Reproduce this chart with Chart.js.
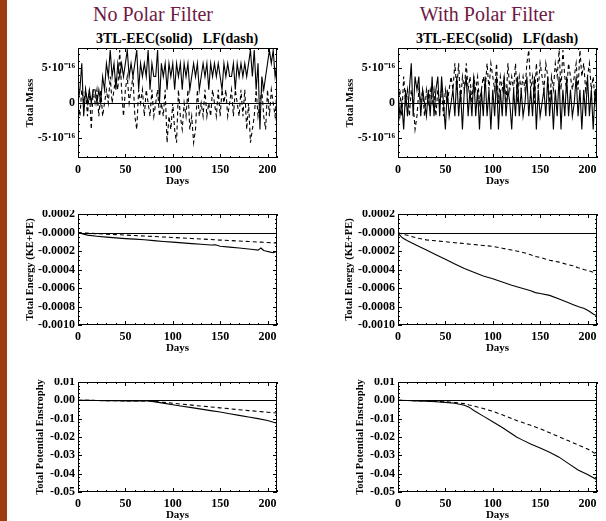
<!DOCTYPE html>
<html>
<head>
<meta charset="utf-8">
<script src="https://cdn.jsdelivr.net/npm/chart.js@4.4.1/dist/chart.umd.min.js"></script>
<style>
html, body { margin: 0; padding: 0; background: #fff; width: 606px; height: 521px; overflow: hidden; }
#bar { position: absolute; left: 0; top: 0; width: 7px; height: 521px; background: #9c3d12; }
.col { position: absolute; top: 3px; line-height: 23px; font: 20px "Liberation Serif", serif; color: #6e1a45; white-space: nowrap; transform: translateX(-50%); }
.sub { position: absolute; top: 31px; line-height: 16px; font: bold 14px "Liberation Serif", serif; color: #000; white-space: pre; transform: translateX(-50%); }
canvas { position: absolute; }
</style>
</head>
<body>
<div id="bar"></div>
<div class="col" style="left:153px">No Polar Filter</div>
<div class="col" style="left:487px">With Polar Filter</div>
<div class="sub" style="left:177px">3TL-EEC(solid)   LF(dash)</div>
<div class="sub" style="left:497px">3TL-EEC(solid)   LF(dash)</div>

<canvas id="massL" width="292" height="144" style="left:8px;top:44px"></canvas>
<canvas id="massR" width="306" height="144" style="left:300px;top:44px"></canvas>
<canvas id="energyL" width="292" height="145" style="left:8px;top:210px"></canvas>
<canvas id="energyR" width="306" height="145" style="left:300px;top:210px"></canvas>
<canvas id="enstL" width="292" height="144" style="left:8px;top:378px"></canvas>
<canvas id="enstR" width="306" height="144" style="left:300px;top:378px"></canvas>

<script>
// tick values and labels
const dayTicks = [0, 50, 100, 150, 200];
const massTicks = [-5e-16, 0, 5e-16];
const massTickLabels = ['-5·10⁻¹⁶', '0', '5·10⁻¹⁶'];
const energyTicks = [0.0002, 0, -0.0002, -0.0004, -0.0006, -0.0008, -0.0010];
const energyTickLabels = ['0.0002', '-0.0000', '-0.0002', '-0.0004', '-0.0006', '-0.0008', '-0.0010'];
const enstTicks = [0.01, 0, -0.01, -0.02, -0.03, -0.04, -0.05];
const enstTickLabels = ['0.01', '0.00', '-0.01', '-0.02', '-0.03', '-0.04', '-0.05'];

// Total mass (days every 2)
const massDays = [0,2,4,6,8,10,12,14,16,18,20,22,24,26,28,30,32,34,36,38,40,42,44,46,48,50,52,54,56,58,
  60,62,64,66,68,70,72,74,76,78,80,82,84,86,88,90,92,94,96,98,100,102,104,106,108,110,112,114,116,118,
  120,122,124,126,128,130,132,134,136,138,140,142,144,146,148,150,152,154,156,158,160,162,164,166,168,170,
  172,174,176,178,180,182,184,186,188,190,192,194,196,198,200,202,204,206,208,210];

const massNoPfSolid = [0,1.9e-16,5.7e-16,-1.9e-16,1.9e-16,0,1.9e-16,0,1.9e-16,1.9e-16,0,1.9e-16,0,
  3.8e-16,1.9e-16,5.7e-16,3.8e-16,7.6e-16,3.8e-16,5.7e-16,1.9e-16,5.7e-16,3.8e-16,5.7e-16,3.8e-16,5.7e-16,
  7.6e-16,3.8e-16,5.7e-16,3.8e-16,5.7e-16,7.6e-16,1.9e-16,5.7e-16,3.8e-16,5.7e-16,3.8e-16,7.6e-16,1.9e-16,
  5.7e-16,3.8e-16,3.8e-16,7.6e-16,0,5.7e-16,3.8e-16,5.7e-16,1.9e-16,5.7e-16,3.8e-16,5.7e-16,
  1.9e-16,5.7e-16,3.8e-16,5.7e-16,1.9e-16,5.7e-16,3.8e-16,5.7e-16,1.9e-16,3.8e-16,
  5.7e-16,3.8e-16,5.7e-16,1.9e-16,3.8e-16,5.7e-16,3.8e-16,5.7e-16,1.9e-16,5.7e-16,
  3.8e-16,5.7e-16,3.8e-16,5.7e-16,3.8e-16,1.9e-16,5.7e-16,3.8e-16,5.7e-16,3.8e-16,
  3.8e-16,5.7e-16,1.9e-16,5.7e-16,3.8e-16,5.7e-16,3.8e-16,5.7e-16,3.8e-16,
  5.7e-16,7.6e-16,3.8e-16,7.6e-16,1.9e-16,5.7e-16,-3.8e-16,3.8e-16,1.9e-16,3.8e-16,5.7e-16,7.6e-16,
  5.7e-16,7.6e-16,3.8e-16,5.7e-16];
const massNoPfDash = [0,-1.9e-16,1.9e-16,0,1.9e-16,-1.9e-16,1.9e-16,-3.8e-16,1.9e-16,0,
  1.9e-16,-1.9e-16,1.9e-16,-1.9e-16,0,1.9e-16,0,3.8e-16,0,1.9e-16,
  3.8e-16,1.9e-16,7.6e-16,1.9e-16,-1.9e-16,1.9e-16,3.8e-16,0,1.9e-16,3.8e-16,
  -1.9e-16,-3.8e-16,1.9e-16,0,1.9e-16,-1.9e-16,1.9e-16,0,-1.9e-16,1.9e-16,
  -1.9e-16,0,1.9e-16,-1.9e-16,0,-1.9e-16,1.9e-16,-5.7e-16,-1.9e-16,-3.8e-16,
  0,-3.8e-16,-5.7e-16,1.9e-16,-1.9e-16,-3.8e-16,0,-1.9e-16,1.9e-16,-3.8e-16,
  -1.9e-16,-5.7e-16,-3.8e-16,1.9e-16,-1.9e-16,0,-1.9e-16,1.9e-16,-1.9e-16,0,
  -1.9e-16,1.9e-16,0,-1.9e-16,1.9e-16,-1.9e-16,1.9e-16,0,1.9e-16,-1.9e-16,
  0,1.9e-16,-1.9e-16,1.9e-16,0,-1.9e-16,1.9e-16,-1.9e-16,1.9e-16,-3.8e-16,
  0,-5.7e-16,-3.8e-16,-1.9e-16,1.9e-16,-1.9e-16,0,1.9e-16,-1.9e-16,-3.8e-16,
  1.9e-16,-1.9e-16,1.9e-16,0,-1.9e-16,1.9e-16];
const massPfSolid = [1.9e-16,-1.9e-16,0,-3.8e-16,1.9e-16,-1.9e-16,1.9e-16,5.7e-16,-1.9e-16,3.8e-16,
  1.9e-16,3.8e-16,-1.9e-16,1.9e-16,0,-1.9e-16,1.9e-16,-1.9e-16,3.8e-16,-1.9e-16,
  1.9e-16,3.8e-16,-1.9e-16,3.8e-16,0,-3.8e-16,1.9e-16,-1.9e-16,0,1.9e-16,
  -1.9e-16,3.8e-16,-1.9e-16,1.9e-16,-3.8e-16,1.9e-16,3.8e-16,-1.9e-16,1.9e-16,-1.9e-16,
  3.8e-16,-1.9e-16,1.9e-16,-3.8e-16,1.9e-16,-1.9e-16,3.8e-16,-1.9e-16,1.9e-16,-3.8e-16,
  1.9e-16,-1.9e-16,3.8e-16,-3.8e-16,1.9e-16,-1.9e-16,3.8e-16,-1.9e-16,1.9e-16,0,
  -3.8e-16,1.9e-16,-1.9e-16,3.8e-16,-1.9e-16,1.9e-16,-1.9e-16,0,3.8e-16,-1.9e-16,
  1.9e-16,-1.9e-16,3.8e-16,-3.8e-16,1.9e-16,-1.9e-16,0,1.9e-16,-1.9e-16,3.8e-16,
  -1.9e-16,1.9e-16,-3.8e-16,1.9e-16,-1.9e-16,3.8e-16,-3.8e-16,1.9e-16,-1.9e-16,3.8e-16,
  -1.9e-16,1.9e-16,-1.9e-16,0,3.8e-16,-1.9e-16,1.9e-16,-3.8e-16,1.9e-16,-1.9e-16,
  3.8e-16,-1.9e-16,1.9e-16,-3.8e-16,1.9e-16,-1.9e-16];
const massPfDash = [0,1.9e-16,-1.9e-16,3.8e-16,0,1.9e-16,-1.9e-16,1.9e-16,0,-3.8e-16,
  -1.9e-16,1.9e-16,0,1.9e-16,-1.9e-16,1.9e-16,0,1.9e-16,0,1.9e-16,
  -1.9e-16,1.9e-16,0,1.9e-16,-1.9e-16,1.9e-16,0,1.9e-16,3.8e-16,1.9e-16,
  5.7e-16,1.9e-16,5.7e-16,0,3.8e-16,1.9e-16,5.7e-16,1.9e-16,3.8e-16,0,
  3.8e-16,1.9e-16,3.8e-16,0,1.9e-16,3.8e-16,1.9e-16,5.7e-16,1.9e-16,5.7e-16,
  3.8e-16,1.9e-16,5.7e-16,0,3.8e-16,1.9e-16,3.8e-16,0,5.7e-16,1.9e-16,
  3.8e-16,1.9e-16,5.7e-16,0,3.8e-16,1.9e-16,3.8e-16,1.9e-16,5.7e-16,7.6e-16,
  1.9e-16,3.8e-16,0,5.7e-16,1.9e-16,5.7e-16,3.8e-16,1.9e-16,5.7e-16,3.8e-16,
  0,3.8e-16,1.9e-16,5.7e-16,3.8e-16,7.6e-16,1.9e-16,7.6e-16,3.8e-16,1.9e-16,
  5.7e-16,3.8e-16,1.9e-16,3.8e-16,5.7e-16,1.9e-16,7.6e-16,3.8e-16,5.7e-16,1.9e-16,
  3.8e-16,5.7e-16,1.9e-16,3.8e-16,0,3.8e-16];

// Total energy (KE+PE)
const energyDays = [0,5,10,20,30,40,50,60,70,80,90,100,110,120,130,140,145,150,160,170,180,185,190,193,196,200,203,206,210];
const energyNoPfSolid = [0,-0.000015,-0.000028,-0.00004,-0.00005,-0.000058,-0.000066,-0.000072,-0.000078,-0.000088,
  -0.000097,-0.000104,-0.000112,-0.00012,-0.000127,-0.000135,-0.000132,-0.000148,-0.000158,-0.000167,
  -0.000178,-0.000183,-0.00019,-0.000168,-0.000195,-0.000205,-0.000212,-0.000218,-0.000205];
const energyNoPfDash = [0,-0.000004,-0.000007,-0.000013,-0.000018,-0.000023,-0.000028,-0.000033,-0.000038,-0.000043,
  -0.000049,-0.000054,-0.000059,-0.000065,-0.00007,-0.000076,-0.000079,-0.000082,-0.000087,-0.000092,
  -0.000097,-0.0001,-0.000103,-0.000104,-0.000106,-0.000108,-0.00011,-0.000112,-0.000114];
const energyPfSolid = [-0.00001,-0.00006,-0.00009,-0.00014,-0.00019,-0.00024,-0.00029,-0.00034,-0.00039,-0.00043,
  -0.00047,-0.0005,-0.000535,-0.00057,-0.0006,-0.00063,-0.00065,-0.00066,-0.00068,-0.00072,
  -0.00076,-0.00078,-0.0008,-0.00081,-0.00082,-0.00084,-0.00086,-0.00088,-0.0009];
const energyPfDash = [0,-0.00002,-0.00003,-0.00006,-0.00008,-0.00009,-0.0001,-0.00011,-0.00012,-0.00013,
  -0.00014,-0.00015,-0.00017,-0.00019,-0.00021,-0.00024,-0.00026,-0.00027,-0.0003,-0.00032,
  -0.00035,-0.00036,-0.00038,-0.00039,-0.0004,-0.00041,-0.00042,-0.00043,-0.00044];

// Total potential enstrophy
const enstDays = [0,10,20,30,40,50,60,70,75,80,90,100,110,120,125,130,140,150,160,170,180,190,200,210];
const enstNoPfSolid = [0,0,-0.0001,-0.0002,-0.0002,-0.0003,-0.0003,-0.0003,-0.0004,-0.0007,-0.0015,-0.0024,
  -0.0032,-0.004,-0.0044,-0.0048,-0.0056,-0.0064,-0.0073,-0.0082,-0.0091,-0.01,-0.011,-0.0125];
const enstNoPfDash = [0,0,-0.0001,-0.0002,-0.0002,-0.0003,-0.0003,-0.0003,-0.0004,-0.0006,-0.0011,-0.0016,
  -0.0021,-0.0026,-0.0029,-0.0031,-0.0036,-0.0041,-0.0046,-0.0051,-0.0056,-0.006,-0.0065,-0.0069];
const enstPfSolid = [0,-0.0001,-0.0003,-0.0005,-0.0008,-0.0011,-0.0016,-0.0027,-0.0037,-0.0055,-0.0086,-0.0117,
  -0.0148,-0.0182,-0.02,-0.0213,-0.0238,-0.026,-0.0283,-0.031,-0.0345,-0.038,-0.0405,-0.0433];
const enstPfDash = [0,-0.0001,-0.0002,-0.0004,-0.0006,-0.0008,-0.0012,-0.0018,-0.0025,-0.0031,-0.0045,-0.006,
  -0.0079,-0.0099,-0.011,-0.0118,-0.0136,-0.0155,-0.0177,-0.0199,-0.0221,-0.0243,-0.0265,-0.0296];

Chart.defaults.font.family = '"Liberation Serif", "Times New Roman", serif';
Chart.defaults.color = '#000';

// box, zero line and inward ticks like the old plotting package
const idlAxes = {
  id: 'idlAxes',
  afterDatasetsDraw(chart, args, opts) {
    const {ctx, chartArea: a, scales: {x, y}} = chart;
    ctx.save();
    ctx.strokeStyle = '#000';
    ctx.lineWidth = 1;
    const y0 = Math.round(y.getPixelForValue(0)) + 0.5;
    ctx.beginPath();
    ctx.moveTo(a.left, y0);
    ctx.lineTo(a.right, y0);
    ctx.stroke();
    ctx.strokeRect(Math.round(a.left) + 0.5, Math.round(a.top) + 0.5,
      Math.round(a.right - a.left) - 1, Math.round(a.bottom - a.top) - 1);
    ctx.beginPath();
    const xt = (v, len) => {
      const px = Math.round(x.getPixelForValue(v)) + 0.5;
      ctx.moveTo(px, a.bottom); ctx.lineTo(px, a.bottom - len);
      ctx.moveTo(px, a.top); ctx.lineTo(px, a.top + len);
    };
    const yt = (v, len) => {
      const py = Math.round(y.getPixelForValue(v)) + 0.5;
      ctx.moveTo(a.left, py); ctx.lineTo(a.left + len, py);
      ctx.moveTo(a.right, py); ctx.lineTo(a.right - len, py);
    };
    for (let k = Math.ceil(x.min / opts.xMinor); k * opts.xMinor <= x.max; k++) xt(k * opts.xMinor, 2);
    for (let k = Math.ceil(y.min / opts.yMinor - 1e-6); k * opts.yMinor <= y.max * (1 + 1e-9); k++) yt(k * opts.yMinor, 2);
    x.ticks.forEach(t => xt(t.value, 4));
    y.ticks.forEach(t => yt(t.value, 4));
    ctx.stroke();
    ctx.restore();
  }
};

function pts(days, vals) {
  return days.map((d, i) => ({x: d, y: vals[i]}));
}

function makePanel(id, o) {
  return new Chart(document.getElementById(id), {
    type: 'line',
    data: {
      datasets: [
        {data: pts(o.days, o.solid), borderColor: '#000', borderWidth: 1.1, pointRadius: 0, tension: 0},
        {data: pts(o.days, o.dash), borderColor: '#000', borderWidth: 1.1, borderDash: [4, 3], pointRadius: 0, tension: 0}
      ]
    },
    options: {
      responsive: false,
      animation: false,
      events: [],
      layout: {padding: {top: 4, right: o.padRight, left: 0, bottom: 0}},
      plugins: {
        legend: {display: false},
        tooltip: {enabled: false},
        idlAxes: {xMinor: 10, yMinor: o.yMinor}
      },
      scales: {
        x: {
          type: 'linear', min: 0, max: 210,
          grid: {display: false, drawTicks: false}, border: {display: false},
          afterBuildTicks: s => { s.ticks = dayTicks.map(v => ({value: v})); },
          afterFit: s => { s.height = 30; s.paddingLeft = 0; s.paddingRight = 0; },
          ticks: {padding: 5, maxRotation: 0, autoSkip: false, font: {size: 12, weight: 'bold'}},
          title: {display: true, text: 'Days', font: {size: 11, weight: 'bold'}, padding: {top: 0, bottom: 0.5}}
        },
        y: {
          type: 'linear', min: o.yMin, max: o.yMax,
          grid: {display: false, drawTicks: false}, border: {display: false},
          afterBuildTicks: s => { s.ticks = o.ticks.map(v => ({value: v})); },
          afterFit: s => { s.width = o.axisWidth; s.paddingTop = 0; s.paddingBottom = 0; },
          ticks: {padding: 3, autoSkip: false, font: {size: 12, weight: 'bold'}, callback: (v, i) => o.labels[i]},
          title: {display: true, text: o.yTitle, font: {size: 10.5, weight: 'bold'}, padding: {top: o.titlePad, bottom: 0}}
        }
      }
    },
    plugins: [idlAxes]
  });
}

const massOpts = {days: massDays, yMin: -7.9e-16, yMax: 7.9e-16, yMinor: 1e-16, ticks: massTicks, labels: massTickLabels, yTitle: 'Total Mass'};
const energyOpts = {days: energyDays, yMin: -0.0010, yMax: 0.0002, yMinor: 0.00005, ticks: energyTicks, labels: energyTickLabels, yTitle: 'Total Energy (KE+PE)'};
const enstOpts = {days: enstDays, yMin: -0.05, yMax: 0.01, yMinor: 0.002, ticks: enstTicks, labels: enstTickLabels, yTitle: 'Total Potential Enstrophy'};

makePanel('massL', {...massOpts, solid: massNoPfSolid, dash: massNoPfDash, axisWidth: 70, padRight: 23, titlePad: 15.7});
makePanel('massR', {...massOpts, solid: massPfSolid, dash: massPfDash, axisWidth: 98, padRight: 9, titlePad: 43.7});
makePanel('energyL', {...energyOpts, solid: energyNoPfSolid, dash: energyNoPfDash, axisWidth: 70, padRight: 23, titlePad: 15.7});
makePanel('energyR', {...energyOpts, solid: energyPfSolid, dash: energyPfDash, axisWidth: 98, padRight: 9, titlePad: 42.7});
makePanel('enstL', {...enstOpts, solid: enstNoPfSolid, dash: enstNoPfDash, axisWidth: 70, padRight: 23, titlePad: 25.7});
makePanel('enstR', {...enstOpts, solid: enstPfSolid, dash: enstPfDash, axisWidth: 98, padRight: 9, titlePad: 53.7});
</script>
</body>
</html>
